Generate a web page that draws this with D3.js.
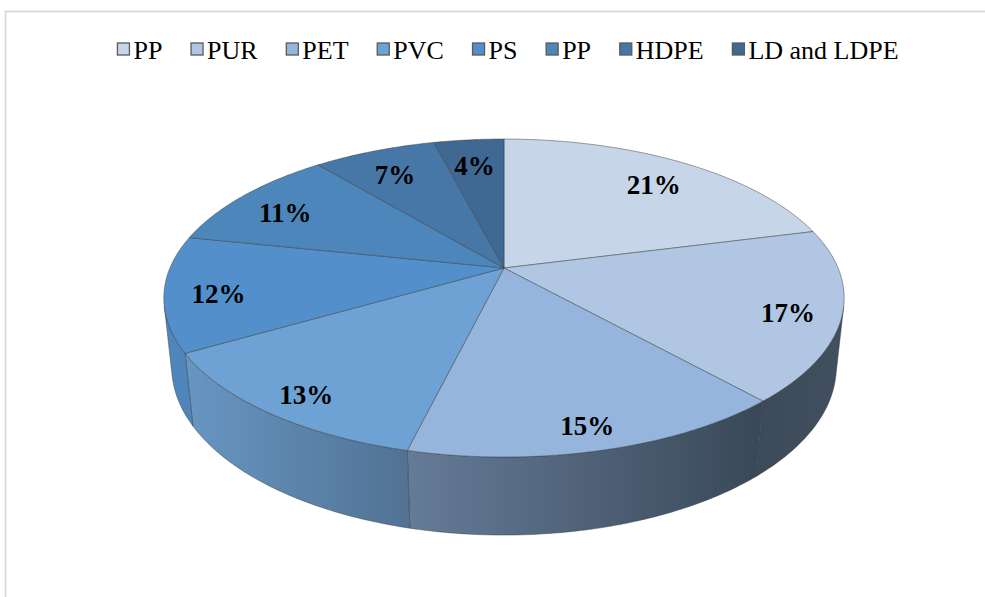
<!DOCTYPE html>
<html>
<head>
<meta charset="utf-8">
<script src="https://cdn.jsdelivr.net/npm/d3@7"></script>
<style>
  body { margin: 0; background: #fff; }
</style>
</head>
<body>
<div id="chart"></div>
<script>
// * DATA
const categories = ["PP", "PUR", "PET", "PVC", "PS", "PP", "HDPE", "LD and LDPE"];
const shares = [21, 17.4, 15.4, 12.8, 11.7, 10.7, 7, 4];
const colors = ["#c6d5e8", "#b0c6e2", "#95b5dc", "#6fa2d4", "#5390cb", "#4d86bb", "#4677a7", "#3f6892"];

const W = 985, H = 597;

var svg = d3.select("#chart")
  .append("svg")
  .attr("width", W)
  .attr("height", H);

// light frame of the chart area
svg.append("rect")
  .attr("x", 5.5).attr("y", 11.5)
  .attr("width", W + 20).attr("height", H + 20)
  .attr("fill", "none")
  .attr("stroke", "#d9d9d9")
  .attr("stroke-width", 1.8);

// * 3D projection of the disc (tilted, with a little perspective)
var cx = 504, cy = 268, focal = 1572, R = 0.2125, camDist = 1;
var sinA = 0.459, cosA = Math.sqrt(1 - sinA * sinA), thick = 0.0497;

function proj(theta, r, z) {
  var X = r * Math.sin(theta), Y = -r * Math.cos(theta);
  var depth = camDist - Y * cosA - z * sinA;
  return [cx + focal * X / depth, cy + focal * (Y * sinA - z * cosA) / depth];
}
function arcPts(a0, a1, z) {
  var n = Math.max(2, Math.ceil((a1 - a0) / (Math.PI / 240)));
  var pts = [];
  for (var i = 0; i <= n; i++) pts.push(proj(a0 + (a1 - a0) * i / n, R, z));
  return pts;
}
var line = d3.line();

var pie = d3.pie().sort(null).value(d => d).startAngle(0).endAngle(2 * Math.PI);
var arcs = pie(shares);

// side walls only where they face the camera
var vis0 = Math.acos(-R / (camDist * cosA)), vis1 = 2 * Math.PI - vis0;
var shade = d3.scaleLinear().domain([185, 405, 760, 850]).range([0.12, 0.46, 0.89, 0.85]).clamp(true);
var darkTone = "#2e3a48";
var defs = svg.append("defs");

var walls = svg.append("g");
arcs.forEach(function(a, i) {
  var b0 = Math.max(a.startAngle, vis0), b1 = Math.min(a.endAngle, vis1);
  if (b0 >= b1) return;
  var top = arcPts(b0, b1, 0), bot = arcPts(b0, b1, -thick).reverse();
  var xs = top.concat(bot).map(p => p[0]);
  var x0 = d3.min(xs), x1 = d3.max(xs);
  var gid = "wall" + i;
  var grad = defs.append("linearGradient").attr("id", gid)
    .attr("gradientUnits", "userSpaceOnUse")
    .attr("x1", x0).attr("x2", x1).attr("y1", 0).attr("y2", 0);
  grad.append("stop").attr("offset", 0).attr("stop-color", d3.interpolateRgb(colors[i], darkTone)(shade(x0)));
  grad.append("stop").attr("offset", 1).attr("stop-color", d3.interpolateRgb(colors[i], darkTone)(shade(x1)));
  walls.append("path")
    .attr("d", line(top.concat(bot)) + "Z")
    .attr("fill", "url(#" + gid + ")")
    .attr("stroke", "#3a3a3a")
    .attr("stroke-opacity", 0.55)
    .attr("stroke-width", 0.8)
    .attr("stroke-linejoin", "round");
});

// top faces
var tops = svg.append("g");
arcs.forEach(function(a, i) {
  var pts = [proj(0, 0, 0)].concat(arcPts(a.startAngle, a.endAngle, 0));
  tops.append("path")
    .attr("d", line(pts) + "Z")
    .attr("fill", colors[i])
    .attr("stroke", "#3a3a3a")
    .attr("stroke-opacity", 0.6)
    .attr("stroke-width", 0.8)
    .attr("stroke-linejoin", "round");
});

// data labels
var farPt = proj(0, R, 0), nearPt = proj(Math.PI, R, 0);
var ec = [cx, (farPt[1] + nearPt[1]) / 2];
svg.append("g").selectAll("text")
  .data(arcs)
  .enter()
  .append("text")
  .attr("x", function(d) { var p = proj((d.startAngle + d.endAngle) / 2, R, 0); return ec[0] + 0.84 * (p[0] - ec[0]); })
  .attr("y", function(d) { var p = proj((d.startAngle + d.endAngle) / 2, R, 0); return ec[1] + 0.84 * (p[1] - ec[1]); })
  .attr("dy", "0.35em")
  .attr("text-anchor", "middle")
  .style("font-family", "'Liberation Serif', 'Times New Roman', serif")
  .style("font-weight", "bold")
  .style("font-size", "27px")
  .attr("fill", "#000")
  .text(function(d) { return Math.round(d.value) + "%"; });

// * LEGEND
var legend = svg.append("g");
var sq = 12, txtGap = 16, itemGap = 28.7;
var items = legend.selectAll("g")
  .data(categories)
  .enter()
  .append("g");
items.append("rect")
  .attr("y", 43).attr("width", sq).attr("height", sq)
  .attr("fill", (d, i) => colors[i])
  .attr("stroke", "#5a5a5a")
  .attr("stroke-width", 1.3);
items.append("text")
  .attr("x", txtGap).attr("y", 59)
  .style("font-family", "'Liberation Serif', 'Times New Roman', serif")
  .style("font-size", "26px")
  .attr("fill", "#000")
  .text(d => d);
var widths = [];
items.each(function() { widths.push(txtGap + d3.select(this).select("text").node().getComputedTextLength()); });
var total = d3.sum(widths) + itemGap * (widths.length - 1);
var xPos = 508 - total / 2;
items.attr("transform", function(d, i) {
  var t = "translate(" + xPos + ",0)";
  xPos += widths[i] + itemGap;
  return t;
});
</script>
</body>
</html>
